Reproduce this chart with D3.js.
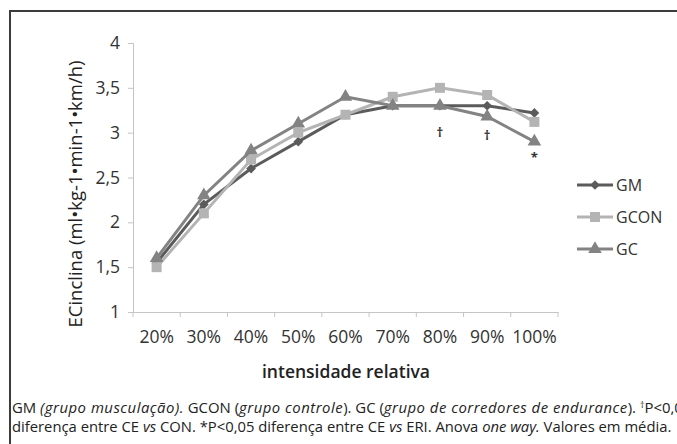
<!DOCTYPE html>
<html lang="pt">
<head>
  <meta charset="UTF-8">
  <title>ECinclina</title>
  <style>
    body { margin: 0; background: #fff; }
    svg { display: block; }
  </style>
</head>
<body>

  <svg id="svg" width="677" height="444"></svg>

  <script src="https://d3js.org/d3.v7.min.js"></script>
  <script>

    // categorias e valores
    const categories = ['20%', '30%', '40%', '50%', '60%', '70%', '80%', '90%', '100%']
    const gm   = [1.55, 2.2, 2.6, 2.9, 3.2, 3.3, 3.3, 3.3, 3.22]
    const gcon = [1.5, 2.1, 2.7, 3.0, 3.2, 3.4, 3.5, 3.42, 3.12]
    const gc   = [1.6, 2.3, 2.8, 3.1, 3.4, 3.3, 3.3, 3.18, 2.9]
    const yTicks = [1, 1.5, 2, 2.5, 3, 3.5, 4]

    // marcas de significância (categoria, símbolo, altura em unidades do eixo)
    const marks = [
      { cat: '80%', sym: '†', y: 2.95 },
      { cat: '90%', sym: '†', y: 2.92 },
      { cat: '100%', sym: '*', y: 2.67 }
    ]

    const series = [
      { name: 'GM', values: gm, color: '#5b5b5b', shape: d3.symbolDiamond2, size: 60 },
      { name: 'GCON', values: gcon, color: '#b4b4b4', shape: d3.symbolSquare, size: 100 },
      { name: 'GC', values: gc, color: '#838383', shape: d3.symbolTriangle, size: 80 }
    ]

    const svg = d3.select('#svg')
    const font = '"Open Sans", "Noto Sans", sans-serif'

    // moldura
    svg.append('path')
      .attr('d', 'M10,460 L10,11 L690,11')
      .attr('fill', 'none')
      .attr('stroke', '#3c3c3c')
      .attr('stroke-width', 2)

    const xScale = d3.scaleBand()
      .domain(categories)
      .range([133, 558])

    const yScale = d3.scaleLinear()
      .domain([1, 4])
      .range([312, 43])

    // eixo y
    const yAxis = svg.append('g')
      .attr('transform', 'translate(133,0)')
      .call(d3.axisLeft(yScale).tickValues(yTicks).tickSize(5).tickPadding(8)
        .tickFormat(d => String(d).replace('.', ',')))
    yAxis.select('.domain').attr('stroke', '#c4c4c4')
    yAxis.selectAll('.tick line').attr('stroke', '#c4c4c4')
    yAxis.selectAll('text')
      .attr('font-family', font)
      .attr('font-size', 17.5)
      .attr('fill', '#333')

    // eixo x
    const xAxis = svg.append('g')
      .attr('transform', 'translate(0,312)')
      .call(d3.axisBottom(xScale).tickSize(0).tickPadding(19))
    xAxis.select('.domain').attr('stroke', '#c4c4c4')
    xAxis.selectAll('text')
      .attr('font-family', font)
      .attr('font-size', 17.5)
      .attr('fill', '#333')

    // ticks entre categorias
    const bounds = categories.map(c => xScale(c)).concat([xScale.range()[1]])
    svg.append('g')
      .selectAll('line')
      .data(bounds)
      .enter()
      .append('line')
      .attr('x1', d => d)
      .attr('x2', d => d)
      .attr('y1', 312)
      .attr('y2', 317)
      .attr('stroke', '#c4c4c4')

    const cx = c => xScale(c) + xScale.bandwidth() / 2

    const line = d3.line()
      .x((d, i) => cx(categories[i]))
      .y(d => yScale(d))

    series.forEach(s => {
      svg.append('path')
        .datum(s.values)
        .attr('d', line)
        .attr('fill', 'none')
        .attr('stroke', s.color)
        .attr('stroke-width', 3)

      svg.append('g')
        .selectAll('path')
        .data(s.values)
        .enter()
        .append('path')
        .attr('d', d3.symbol().type(s.shape).size(s.size))
        .attr('transform', (d, i) => `translate(${cx(categories[i])},${yScale(d)})`)
        .attr('fill', s.color)
    })

    // símbolos de significância
    svg.append('g')
      .selectAll('text')
      .data(marks)
      .enter()
      .append('text')
      .attr('x', d => cx(d.cat))
      .attr('y', d => yScale(d.y))
      .attr('text-anchor', 'middle')
      .attr('font-family', font)
      .attr('font-size', 13)
      .attr('font-weight', 'bold')
      .attr('fill', '#333')
      .text(d => d.sym)

    // legenda
    const legend = svg.append('g')
      .selectAll('g')
      .data(series)
      .enter()
      .append('g')
      .attr('transform', (d, i) => `translate(577,${185 + i * 32})`)
    legend.append('line')
      .attr('x1', 0).attr('x2', 36)
      .attr('stroke', d => d.color)
      .attr('stroke-width', 3)
    legend.append('path')
      .attr('d', d => d3.symbol().type(d.shape).size(d.size)())
      .attr('transform', 'translate(18,0)')
      .attr('fill', d => d.color)
    legend.append('text')
      .attr('x', 39)
      .attr('dy', '0.36em')
      .attr('font-family', font)
      .attr('font-size', 16)
      .attr('fill', '#333')
      .text(d => d.name)

    // títulos dos eixos
    svg.append('text')
      .attr('x', 346)
      .attr('y', 378)
      .attr('text-anchor', 'middle')
      .attr('font-family', font)
      .attr('font-size', 17.5)
      .attr('font-weight', 600)
      .attr('fill', '#222')
      .text('intensidade relativa')

    svg.append('text')
      .attr('transform', 'translate(82,194) rotate(-90)')
      .attr('text-anchor', 'middle')
      .attr('font-family', font)
      .attr('font-size', 18.5)
      .attr('fill', '#222')
      .text('ECinclina (ml•kg-1•min-1•km/h)')

    // legenda da figura
    const italic = (sel, txt, ls) => sel.append('tspan')
      .attr('font-style', 'italic')
      .attr('letter-spacing', ls)
      .text(txt)

    const cap1 = svg.append('text')
      .attr('x', 12).attr('y', 413)
      .attr('font-family', font)
      .attr('font-size', 14.9)
      .attr('fill', '#222')
    cap1.append('tspan').text('GM ')
    italic(cap1, '(grupo musculação).', 0.5)
    cap1.append('tspan').text(' GCON (')
    italic(cap1, 'grupo controle', 0.5)
    cap1.append('tspan').text('). GC (')
    italic(cap1, 'grupo de corredores de endurance', 0.5)
    cap1.append('tspan').text('). ')
    cap1.append('tspan').attr('font-size', 9).attr('dy', -5).text('†')
    cap1.append('tspan').attr('dy', 5).text('P<0,05')

    const cap2 = svg.append('text')
      .attr('x', 12).attr('y', 432)
      .attr('font-family', font)
      .attr('font-size', 14.8)
      .attr('fill', '#222')
    cap2.append('tspan').text('diferença entre CE ')
    italic(cap2, 'vs', 0)
    cap2.append('tspan').text(' CON. *P<0,05 diferença entre CE ')
    italic(cap2, 'vs', 0)
    cap2.append('tspan').text(' ERI. Anova ')
    italic(cap2, 'one way.', 0)
    cap2.append('tspan').text(' Valores em média.')

  </script>
</body>
</html>
